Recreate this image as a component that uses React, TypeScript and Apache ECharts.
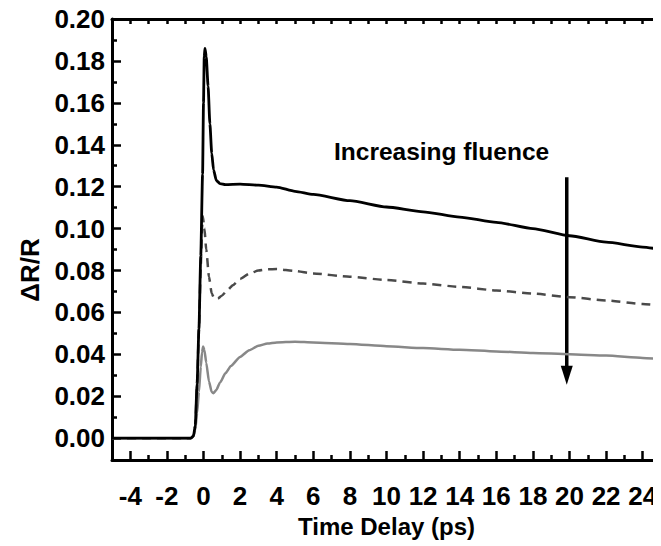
import React, { useEffect, useRef } from "react";
import * as echarts from "echarts";

// Time delay (ps) and dR/R values for the three fluences
const highT = [-5, -3, -1, -0.7, -0.55, -0.45, -0.35, -0.25, -0.15, -0.05, 0.0, 0.04, 0.08, 0.15, 0.25, 0.35, 0.45, 0.55, 0.7, 0.9, 1.2, 2, 3, 4, 5, 6, 8, 10, 12, 14, 16, 18, 20, 22, 24, 25];
const highV = [0, 0, 0, 0, 0.001, 0.006, 0.026, 0.052, 0.087, 0.126, 0.16, 0.182, 0.186, 0.182, 0.168, 0.15, 0.136, 0.128, 0.123, 0.1215, 0.121, 0.1212, 0.1207, 0.1198, 0.1178, 0.1163, 0.1133, 0.1103, 0.108, 0.1055, 0.103, 0.1, 0.0966, 0.0935, 0.0912, 0.09];

const midT = [-5, -3, -1, -0.7, -0.55, -0.45, -0.35, -0.25, -0.15, -0.08, -0.04, 0.05, 0.15, 0.3, 0.45, 0.6, 0.8, 1.0, 1.3, 1.6, 2, 2.5, 3, 3.5, 4, 5, 6, 8, 10, 12, 14, 16, 18, 20, 22, 24, 25];
const midV = [0, 0, 0, 0, 0.001, 0.006, 0.026, 0.052, 0.082, 0.1, 0.106, 0.1, 0.09, 0.077, 0.069, 0.0665, 0.0668, 0.068, 0.0705, 0.073, 0.076, 0.0785, 0.08, 0.0806, 0.0807, 0.0798, 0.0786, 0.077, 0.0755, 0.0738, 0.0722, 0.0705, 0.069, 0.0673, 0.0657, 0.064, 0.0632];

const lowT = [-5, -3, -1, -0.7, -0.55, -0.45, -0.35, -0.25, -0.15, -0.08, -0.02, 0.05, 0.15, 0.3, 0.45, 0.55, 0.7, 0.9, 1.2, 1.5, 2, 2.5, 3, 3.5, 4, 5, 6, 8, 10, 12, 14, 16, 18, 20, 22, 24, 25];
const lowV = [0, 0, 0, 0, 0.001, 0.004, 0.012, 0.022, 0.034, 0.041, 0.0437, 0.042, 0.036, 0.027, 0.022, 0.0215, 0.023, 0.0265, 0.031, 0.0345, 0.0388, 0.042, 0.0441, 0.0452, 0.0457, 0.046, 0.0457, 0.045, 0.0439, 0.043, 0.0422, 0.0414, 0.0407, 0.0401, 0.0394, 0.0383, 0.0378];

// Axis ticks
const xMajorTicks = [-4, -2, 0, 2, 4, 6, 8, 10, 12, 14, 16, 18, 20, 22, 24];
const xMinorTicks = [-5, -3, -1, 1, 3, 5, 7, 9, 11, 13, 15, 17, 19, 21, 23, 25];
const xTopTicks = [...xMinorTicks, ...xMajorTicks];
const yMajorTicks = [0, 0.02, 0.04, 0.06, 0.08, 0.1, 0.12, 0.14, 0.16, 0.18, 0.2];
const yMinorTicks = [0.01, 0.03, 0.05, 0.07, 0.09, 0.11, 0.13, 0.15, 0.17, 0.19];

// Annotation
const annotationText = "Increasing fluence";
const arrowX = 19.85;
const arrowTop = 0.1245;
const arrowTip = 0.0255;

const FONT = "'Liberation Sans', Arial, sans-serif";

export default function App() {
  const ref = useRef<HTMLDivElement>(null);
  useEffect(() => {
    if (!ref.current) return;
    const chart = echarts.init(ref.current, undefined, { renderer: "svg" });
    const toPairs = (t: number[], v: number[]) => t.map((x, i) => [x, v[i]]);
    const lineStyleAxis = { color: "#000", width: 3 };
    const labelStyle = { fontFamily: FONT, fontWeight: "bold" as const, fontSize: 26, color: "#000" };
    chart.setOption({
      animation: false,
      backgroundColor: "#fff",
      grid: { left: 112, right: 0, top: 19, bottom: 86, containLabel: false },
      xAxis: [
        {
          type: "value", min: -5, max: 25, position: "bottom",
          axisLine: { onZero: false, lineStyle: lineStyleAxis },
          axisTick: { inside: true, length: 9, lineStyle: { color: "#000", width: 2.5 }, customValues: xMajorTicks },
          axisLabel: { ...labelStyle, margin: 23, customValues: xMajorTicks },
          splitLine: { show: false },
          name: "Time Delay (ps)", nameLocation: "middle", nameGap: 54,
          nameTextStyle: { fontFamily: FONT, fontWeight: "bold", fontSize: 24, color: "#000" },
        },
        {
          type: "value", min: -5, max: 25, position: "bottom",
          axisLine: { show: false, onZero: false },
          axisTick: { inside: true, length: 5, lineStyle: { color: "#000", width: 2.5 }, customValues: xMinorTicks },
          axisLabel: { show: false },
          splitLine: { show: false },
        },
        {
          type: "value", min: -5, max: 25, position: "top",
          axisLine: { onZero: false, lineStyle: lineStyleAxis },
          axisTick: { inside: true, length: 5, lineStyle: { color: "#000", width: 2.5 }, customValues: xTopTicks },
          axisLabel: { show: false },
          splitLine: { show: false },
        },
      ],
      yAxis: [
        {
          type: "value", min: -0.0104, max: 0.2, position: "left",
          axisLine: { show: true, onZero: false, lineStyle: lineStyleAxis },
          axisTick: { show: true, inside: true, length: 9, lineStyle: { color: "#000", width: 2.5 }, customValues: yMajorTicks },
          axisLabel: { ...labelStyle, margin: 7, customValues: yMajorTicks, formatter: (v: number) => v.toFixed(2) },
          splitLine: { show: false },
        },
        {
          type: "value", min: -0.0104, max: 0.2, position: "left",
          axisLine: { show: false, onZero: false },
          axisTick: { show: true, inside: true, length: 5, lineStyle: { color: "#000", width: 2.5 }, customValues: yMinorTicks },
          axisLabel: { show: false },
          splitLine: { show: false },
        },
      ],
      series: [
        {
          type: "line", data: toPairs(lowT, lowV), showSymbol: false, smooth: 0.2, smoothMonotone: "x",
          lineStyle: { color: "#888", width: 2.5 }, z: 2,
        },
        {
          type: "line", data: toPairs(midT, midV), showSymbol: false, smooth: 0.2, smoothMonotone: "x",
          lineStyle: { color: "#4a4a4a", width: 2.5, type: [9, 6] }, z: 3,
        },
        {
          type: "line", data: toPairs(highT, highV), showSymbol: false, smooth: 0.2, smoothMonotone: "x",
          lineStyle: { color: "#000", width: 2.8 }, z: 4,
        },
      ],
    });
    const pTop = chart.convertToPixel({ gridIndex: 0 }, [arrowX, arrowTop]) as number[];
    const pTip = chart.convertToPixel({ gridIndex: 0 }, [arrowX, arrowTip]) as number[];
    const headLen = 19;
    const headHalf = 6;
    chart.setOption({
      graphic: [
        {
          type: "text", left: 334, top: 139,
          style: { text: annotationText, fontFamily: FONT, fontWeight: "bold", fontSize: 24.5, fill: "#000" },
        },
        {
          type: "text", x: 30, y: 270, rotation: Math.PI / 2,
          style: { text: "ΔR/R", fontFamily: FONT, fontWeight: "bold", fontSize: 26, fill: "#000", align: "center", verticalAlign: "middle" },
        },
        {
          type: "line",
          shape: { x1: pTop[0], y1: pTop[1], x2: pTip[0], y2: pTip[1] - headLen + 2 },
          style: { stroke: "#000", lineWidth: 3.5 },
        },
        {
          type: "polygon",
          shape: { points: [[pTip[0] - headHalf, pTip[1] - headLen], [pTip[0] + headHalf, pTip[1] - headLen], [pTip[0], pTip[1]]] },
          style: { fill: "#000" },
        },
      ],
    });
    return () => chart.dispose();
  }, []);
  return <div ref={ref} style={{ width: 661, height: 546, marginLeft: -8, marginTop: -8 }} />;
}
